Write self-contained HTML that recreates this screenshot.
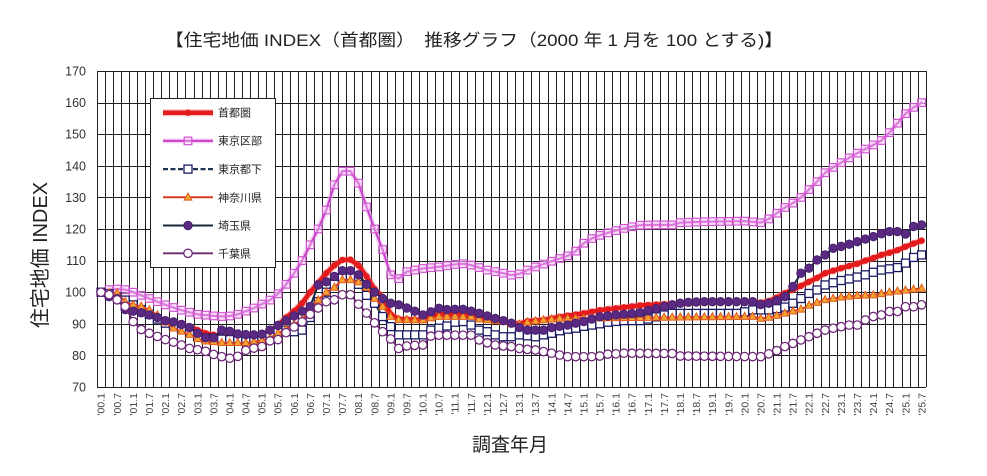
<!DOCTYPE html>
<html><head><meta charset="utf-8">
<style>
html,body{margin:0;padding:0;background:#fff;}
svg{display:block;font-family:"Liberation Sans","Noto Sans CJK JP",sans-serif;}
</style></head>
<body>
<svg id="chart" width="987" height="476" viewBox="0 0 987 476" xmlns="http://www.w3.org/2000/svg">
<rect x="0" y="0" width="987" height="476" fill="#fff"/>
<text x="165" y="46" font-size="17" fill="#222" textLength="618" lengthAdjust="spacingAndGlyphs">【住宅地価 INDEX（首都圏）　推移グラフ（2000 年 1 月を 100 とする)】</text>
<g id="grid"></g>
<g font-size="12.5" fill="#333" text-anchor="end">
<text x="86" y="75.5">170</text>
<text x="86" y="107">160</text>
<text x="86" y="138.7">150</text>
<text x="86" y="170.3">140</text>
<text x="86" y="201.9">130</text>
<text x="86" y="233.5">120</text>
<text x="86" y="265.1">110</text>
<text x="86" y="296.7">100</text>
<text x="86" y="328.3">90</text>
<text x="86" y="359.9">80</text>
<text x="86" y="391.5">70</text>
</g>
<text transform="translate(47,255) rotate(-90)" text-anchor="middle" font-size="20" fill="#222" textLength="146" lengthAdjust="spacingAndGlyphs">住宅地価 INDEX</text>
<text x="510" y="451" text-anchor="middle" font-size="19" fill="#222">調査年月</text>
<g font-size="10.5" fill="#444" text-anchor="end">
<text transform="translate(101.0,393) rotate(-90)" dy="0.35em">'00.1</text>
<text transform="translate(117.1,393) rotate(-90)" dy="0.35em">'00.7</text>
<text transform="translate(133.2,393) rotate(-90)" dy="0.35em">'01.1</text>
<text transform="translate(149.3,393) rotate(-90)" dy="0.35em">'01.7</text>
<text transform="translate(165.4,393) rotate(-90)" dy="0.35em">'02.1</text>
<text transform="translate(181.5,393) rotate(-90)" dy="0.35em">'02.7</text>
<text transform="translate(197.6,393) rotate(-90)" dy="0.35em">'03.1</text>
<text transform="translate(213.6,393) rotate(-90)" dy="0.35em">'03.7</text>
<text transform="translate(229.7,393) rotate(-90)" dy="0.35em">'04.1</text>
<text transform="translate(245.8,393) rotate(-90)" dy="0.35em">'04.7</text>
<text transform="translate(261.9,393) rotate(-90)" dy="0.35em">'05.1</text>
<text transform="translate(278.0,393) rotate(-90)" dy="0.35em">'05.7</text>
<text transform="translate(294.1,393) rotate(-90)" dy="0.35em">'06.1</text>
<text transform="translate(310.2,393) rotate(-90)" dy="0.35em">'06.7</text>
<text transform="translate(326.3,393) rotate(-90)" dy="0.35em">'07.1</text>
<text transform="translate(342.4,393) rotate(-90)" dy="0.35em">'07.7</text>
<text transform="translate(358.5,393) rotate(-90)" dy="0.35em">'08.1</text>
<text transform="translate(374.6,393) rotate(-90)" dy="0.35em">'08.7</text>
<text transform="translate(390.6,393) rotate(-90)" dy="0.35em">'09.1</text>
<text transform="translate(406.7,393) rotate(-90)" dy="0.35em">'09.7</text>
<text transform="translate(422.8,393) rotate(-90)" dy="0.35em">'10.1</text>
<text transform="translate(438.9,393) rotate(-90)" dy="0.35em">'10.7</text>
<text transform="translate(455.0,393) rotate(-90)" dy="0.35em">'11.1</text>
<text transform="translate(471.1,393) rotate(-90)" dy="0.35em">'11.7</text>
<text transform="translate(487.2,393) rotate(-90)" dy="0.35em">'12.1</text>
<text transform="translate(503.3,393) rotate(-90)" dy="0.35em">'12.7</text>
<text transform="translate(519.4,393) rotate(-90)" dy="0.35em">'13.1</text>
<text transform="translate(535.5,393) rotate(-90)" dy="0.35em">'13.7</text>
<text transform="translate(551.6,393) rotate(-90)" dy="0.35em">'14.1</text>
<text transform="translate(567.6,393) rotate(-90)" dy="0.35em">'14.7</text>
<text transform="translate(583.7,393) rotate(-90)" dy="0.35em">'15.1</text>
<text transform="translate(599.8,393) rotate(-90)" dy="0.35em">'15.7</text>
<text transform="translate(615.9,393) rotate(-90)" dy="0.35em">'16.1</text>
<text transform="translate(632.0,393) rotate(-90)" dy="0.35em">'16.7</text>
<text transform="translate(648.1,393) rotate(-90)" dy="0.35em">'17.1</text>
<text transform="translate(664.2,393) rotate(-90)" dy="0.35em">'17.7</text>
<text transform="translate(680.3,393) rotate(-90)" dy="0.35em">'18.1</text>
<text transform="translate(696.4,393) rotate(-90)" dy="0.35em">'18.7</text>
<text transform="translate(712.5,393) rotate(-90)" dy="0.35em">'19.1</text>
<text transform="translate(728.6,393) rotate(-90)" dy="0.35em">'19.7</text>
<text transform="translate(744.6,393) rotate(-90)" dy="0.35em">'20.1</text>
<text transform="translate(760.7,393) rotate(-90)" dy="0.35em">'20.7</text>
<text transform="translate(776.8,393) rotate(-90)" dy="0.35em">'21.1</text>
<text transform="translate(792.9,393) rotate(-90)" dy="0.35em">'21.7</text>
<text transform="translate(809.0,393) rotate(-90)" dy="0.35em">'22.1</text>
<text transform="translate(825.1,393) rotate(-90)" dy="0.35em">'22.7</text>
<text transform="translate(841.2,393) rotate(-90)" dy="0.35em">'23.1</text>
<text transform="translate(857.3,393) rotate(-90)" dy="0.35em">'23.7</text>
<text transform="translate(873.4,393) rotate(-90)" dy="0.35em">'24.1</text>
<text transform="translate(889.5,393) rotate(-90)" dy="0.35em">'24.7</text>
<text transform="translate(905.6,393) rotate(-90)" dy="0.35em">'25.1</text>
<text transform="translate(921.6,393) rotate(-90)" dy="0.35em">'25.7</text>
</g>
<g id="series"></g>
<g id="legend">
<rect x="150.5" y="98.5" width="125" height="169" fill="#fff" stroke="#222" stroke-width="1"/>
<g id="legendMarks"></g>
<g font-size="11" fill="#222">
<text x="218" y="116.5">首都圏</text>
<text x="218" y="144.7">東京区部</text>
<text x="218" y="173">東京都下</text>
<text x="218" y="201.3">神奈川県</text>
<text x="218" y="229.7">埼玉県</text>
<text x="218" y="257.3">千葉県</text>
</g>
</g>
</svg>
<script>
(function(){
var NS="http://www.w3.org/2000/svg";
var N=103;
function X(i){return 97+8.045*(i+0.5);}
function Y(v){return 387-(v-70)*3.16;}
function el(tag,attrs,parent){var e=document.createElementNS(NS,tag);for(var k in attrs)e.setAttribute(k,attrs[k]);parent.appendChild(e);return e;}
// grid
var g=document.getElementById('grid');
var d="";
for(var v=70;v<=170;v+=10){var y=Math.round(Y(v))+0.5;d+="M97 "+y+"H926";}
for(var k=0;k<=103;k++){var x=Math.round(97+8.045*k)+0.5;d+="M"+x+" 71V387";}
el('path',{d:d,stroke:"#1e1e1e","stroke-width":"1",fill:"none","shape-rendering":"crispEdges"},g);

function interp(p){var out=[],k=0;for(var i=0;i<N;i++){while(k<p.length-2&&p[k+1][0]<i)k++;var a=p[k],b=p[k+1];var t=(i-a[0])/(b[0]-a[0]);t=Math.max(0,Math.min(1,t));out.push(a[1]+(b[1]-a[1])*t);}return out;}

var SH=[[0,100],[1,99.5],[2,99],[3,97],[4,95],[5,94],[6,93],[7,92],[8,91],[9,90.5],[10,89.8],[11,89],[12,88],[13,87],[14,86.5],[16,86],[18,86],[20,86.5],[21,87.5],[22,89.5],[23,92],[24,94],[25,96.5],[26,100],[27,103],[28,106],[29,108.5],[30,110.2],[31,110.3],[32,108.5],[33,105],[34,101],[35,98.5],[36,93],[37,91.5],[40,91.2],[41,92.3],[42,93],[44,93.4],[46,93.2],[47,92.5],[49,91.5],[51,90.2],[52,90],[53,90.8],[55,91.2],[57,92.2],[60,93.3],[62,94.3],[65,95.2],[67,95.8],[70,96.2],[75,96.8],[80,97],[82,96.7],[83,97.2],[84,98.3],[85,99.7],[86,100.8],[87,102],[88,103.3],[89,104.5],[90,106],[91,106.8],[92,107.6],[93,108.3],[94,109],[95,110],[96,110.8],[97,111.8],[98,112.5],[99,113.3],[100,114.4],[101,115.4],[102,116.3]];
var TK=[[0,100],[1,100.8],[2,101],[3,100.8],[4,100],[6,98],[8,96],[10,94.3],[12,93],[14,92.5],[15.5,92.2],[17,93],[19,95],[21,97.5],[22,99.5],[23,102.5],[24,106],[25,110],[26,115],[27,120],[28,126],[29,134],[30,138.3],[31,138.3],[32,134.5],[33,127],[34,120],[35,113.5],[36,105.5],[37,104.3],[38,106.5],[40,107.5],[42,108],[44,108.8],[45,109],[46,108.6],[48,107],[50,106],[51,105.4],[52,105.8],[53,107],[54,108],[56,109.8],[58,111.5],[59,113],[60,115.5],[61,117],[62,118],[63,118.8],[65,120.2],[67,121.2],[69,121.3],[71,121.3],[72,122],[75,122.3],[80,122.5],[82,122],[83,123.2],[84,125],[85,126.8],[86,128.2],[87,130],[88,132.5],[89,135],[90,137.8],[91,139.5],[92,141],[93,142.5],[94,144],[95,145.3],[96,146.6],[97,148],[98,150.5],[99,153.5],[100,156.5],[101,158.5],[102,160]];
var TT=[[0,100],[1,99.5],[2,98.5],[3,97.5],[4,96],[5,94.5],[6,93],[7,91.5],[8,90.2],[9,89.3],[10,88.5],[11,87.5],[12,86],[13,85.5],[14,85.3],[16,85],[18,84.8],[20,85],[21,86],[22,87.5],[23,88],[24,87.5],[25,88],[26,92],[27,97],[28,100],[29,102.5],[30,104.5],[31,105],[32,102.5],[33,99],[34,96.5],[35,92.3],[36,89.1],[37,86.5],[40,86.5],[41,88],[42,88.6],[43,89.3],[44,90.5],[45,90.7],[46,89.6],[47,88],[48,87.5],[49,86.5],[50,85.9],[51,85.9],[52,86.5],[53,86.2],[54,85.9],[55,86.5],[56,87],[57,87.8],[58,88.3],[59,88.6],[60,89.2],[61,89.6],[62,90],[63,90.5],[65,91],[67,91],[68,91.5],[69,92.2],[70,92.8],[71,93.3],[79,93.3],[80,93.8],[81,94.4],[83,94.4],[84,94.8],[85,95.3],[86,96.5],[87,98],[88,99.6],[89,100.7],[90,102.3],[91,103],[92,103.7],[93,104.2],[94,104.8],[95,105.5],[96,106.3],[97,107],[98,107.4],[99,107.8],[100,109.2],[101,111],[102,111.8]];
var KA=[[0,100],[1,99.8],[2,99.7],[3,97],[4,96],[5,95.5],[6,94.4],[7,92.8],[8,90.5],[9,88.6],[10,87.6],[11,86.6],[12,85.3],[13,84.5],[14,84.3],[15,84],[18,84],[19,84.3],[20,84.7],[21,85.5],[22,87],[23,88.3],[24,89.8],[25,91.3],[26,94.5],[27,97.5],[28,100],[29,101.5],[30,103.9],[31,103.9],[32,103.2],[33,101.5],[34,98],[35,95.5],[36,92.3],[37,91.3],[40,91.2],[41,91.8],[42,92.3],[46,92.3],[47,91.5],[48,91.2],[50,90.7],[51,90],[52,89.8],[53,90.5],[55,91.2],[57,91.7],[69,92],[81,92.3],[82,91.7],[83,92],[84,92.6],[85,93.3],[86,94],[87,94.6],[88,95.8],[89,96.7],[90,97.6],[91,98],[92,98.4],[93,98.7],[94,98.9],[95,99],[96,99.1],[97,99.5],[98,100],[99,100.3],[100,100.6],[101,100.9],[102,101.2]];
var SA=[[0,100],[1,98.6],[2,98],[3,94.5],[4,94],[5,93.5],[6,92.8],[7,92],[8,91],[9,90.6],[10,89.8],[11,88.8],[12,87],[13,85.6],[14,85.6],[15,88],[16,87.6],[17,86.8],[18,86.6],[19,86.5],[20,86.7],[21,88],[22,89.5],[23,91],[24,92.5],[25,94],[26,95.5],[27,102.3],[28,103.3],[29,105],[30,106.8],[31,106.8],[32,105.5],[33,102.5],[34,100],[35,98],[36,96.5],[37,96],[38,95],[39,94],[40,92.8],[41,93.8],[42,94.9],[43,94.5],[44,94.6],[45,94.6],[46,94],[47,93.3],[48,92.5],[49,91.7],[50,91],[51,90.2],[52,88.8],[53,88],[55,88],[56,88.8],[57,89.2],[58,89.6],[59,90.2],[60,90.7],[61,91.5],[62,92.2],[63,92.5],[64,92.8],[66,93.2],[67,93.5],[68,94.2],[69,94.8],[70,95.5],[71,96],[72,96.5],[73,96.8],[75,97],[81,97],[82,96.1],[83,96.5],[84,97.3],[85,98.6],[86,101.8],[87,106],[88,107.6],[89,110.2],[90,111.8],[91,113.9],[92,114.5],[93,115.2],[94,116],[95,116.8],[96,117.6],[97,118.5],[98,119.2],[99,119.2],[100,118.4],[101,120.8],[102,121.3]];
var CH=[[0,100],[1,99.2],[2,97.6],[3,95.5],[4,90.7],[5,88.2],[6,87],[7,86],[8,85],[9,84.2],[10,83.3],[11,82.2],[12,81.8],[13,81.3],[14,80.3],[15,79.6],[16,79.1],[17,79.7],[18,81.6],[19,82.3],[20,82.8],[21,84.6],[22,85],[23,87.2],[24,89],[25,90.6],[26,93],[27,95],[28,97],[29,97.6],[30,99.2],[31,99.2],[32,96.2],[33,93.4],[34,90.3],[35,87.5],[36,85.2],[37,82.2],[38,83],[39,83.2],[40,83.3],[41,86.1],[42,86.4],[46,86.4],[47,84.9],[48,84],[49,83.3],[50,83],[51,82.8],[52,82.2],[53,81.9],[54,81.7],[55,81.2],[56,80.7],[57,80.1],[58,79.6],[61,79.6],[62,79.8],[63,80.4],[64,80.5],[65,80.7],[71,80.6],[72,79.8],[82,79.6],[83,80.5],[84,81.5],[85,82.8],[86,83.8],[87,84.9],[88,85.9],[89,87],[90,88],[91,88.6],[92,89.1],[93,89.6],[94,89.6],[95,91.2],[96,92.3],[97,92.8],[98,93.9],[99,93.9],[100,95.4],[101,95.4],[102,96]];

var S=document.getElementById('series');
function pts(arr){var s="";for(var i=0;i<arr.length;i++){s+=X(i).toFixed(2)+","+Y(arr[i]).toFixed(2)+" ";}return s;}
function marker(type,x,y,parent){
  if(type==='red'){el('circle',{cx:x,cy:y,r:3.2,fill:"#e41a1c"},parent);}
  else if(type==='pinksq'){el('rect',{x:x-3.8,y:y-3.8,width:7.6,height:7.6,fill:"#fbe6fb","fill-opacity":"0.35",stroke:"#d055d0","stroke-width":"1.2"},parent);}
  else if(type==='whitesq'){el('rect',{x:x-4,y:y-4,width:8,height:8,fill:"#fff",stroke:"#1a1a66","stroke-width":"1.3"},parent);}
  else if(type==='tri'){el('polygon',{points:(x)+","+(y-4.2)+" "+(x+3.8)+","+(y+2.8)+" "+(x-3.8)+","+(y+2.8),fill:"#f5a531",stroke:"#e05a1e","stroke-width":"1"},parent);}
  else if(type==='dot'){el('circle',{cx:x,cy:y,r:4.2,fill:"#5a2a82",stroke:"#4a2070","stroke-width":"1"},parent);}
  else if(type==='ring'){el('circle',{cx:x,cy:y,r:4.2,fill:"#fff",stroke:"#70287a","stroke-width":"1.3"},parent);}
}
var series=[
 {d:SH,line:[{stroke:"#f27a7a",w:7,op:0.45},{stroke:"#e41a1c",w:4.5}],m:'red'},
 {d:TK,line:[{stroke:"#eab0ea",w:5,op:0.6},{stroke:"#cc3fcc",w:2}],m:'pinksq'},
 {d:TT,line:[{stroke:"#1d3550",w:2.2,dash:"5,2.5"}],m:'whitesq'},
 {d:KA,line:[{stroke:"#d83a22",w:2}],m:'tri'},
 {d:SA,line:[{stroke:"#1a2738",w:2}],m:'dot'},
 {d:CH,line:[{stroke:"#6a2a6a",w:1.8}],m:'ring'}
];
series.forEach(function(s){
  var arr=interp(s.d);var p=pts(arr);
  var gg=el('g',{},S);
  s.line.forEach(function(l){var a={points:p,fill:"none",stroke:l.stroke,"stroke-width":l.w,"stroke-linejoin":"round","stroke-linecap":"round"};if(l.op)a["stroke-opacity"]=l.op;if(l.dash)a["stroke-dasharray"]=l.dash;el('polyline',a,gg);});
  for(var i=0;i<arr.length;i++)marker(s.m,X(i),Y(arr[i]),gg);
});
// legend marks
var L=document.getElementById('legendMarks');
var ly=[112.7,140.9,169.1,197.3,225.5,253.3];
series.forEach(function(s,idx){
  var y=ly[idx];
  s.line.forEach(function(l){var a={x1:163,y1:y,x2:213,y2:y,stroke:l.stroke,"stroke-width":l.w};if(l.op)a["stroke-opacity"]=l.op;if(l.dash)a["stroke-dasharray"]=l.dash;el('line',a,L);});
  marker(s.m,188,y,L);
});
})();
</script>
</body></html>
